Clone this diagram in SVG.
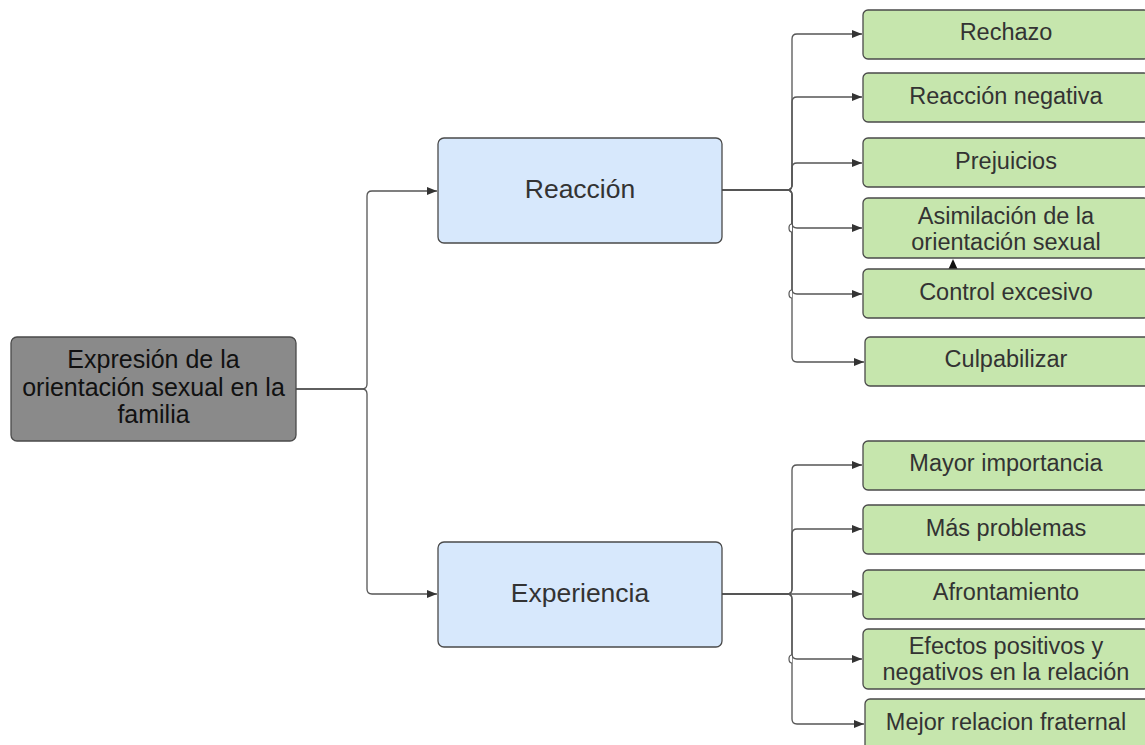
<svg xmlns="http://www.w3.org/2000/svg" width="1145" height="745" viewBox="0 0 1145 745">
<style>
.box{stroke:#4a4a4a;stroke-width:1.3}
.root{fill:#8a8a8a}
.mid{fill:#d7e8fc}
.leaf{fill:#c6e6ad}
.t{font-family:"Liberation Sans",Arial,sans-serif;text-anchor:middle;dominant-baseline:central;fill:#333}
.tr{font-size:25px;fill:#111}
.tm{font-size:26.5px}
.tl{font-size:23.5px}
.c{fill:none;stroke:#555;stroke-width:1.3}
.hop{fill:#fff;stroke:#555;stroke-width:1.2}
</style>
<defs>
<marker id="ah" viewBox="0 0 10 8" refX="10" refY="4" markerWidth="10" markerHeight="8" markerUnits="userSpaceOnUse" orient="auto">
<path d="M0,0 L10,4 L0,8 z" fill="#333"/>
</marker>
</defs>
<rect width="1145" height="745" fill="#fff"/>
<g id="connectors">
<path class="c" d="M296,389 H362 q5,0 5,-5 V196 q0,-5 5,-5 H437" marker-end="url(#ah)"/>
<path class="c" d="M296,389 H362 q5,0 5,5 V589 q0,5 5,5 H437" marker-end="url(#ah)"/>
<path class="c" d="M722,190 H787 q5,0 5,-5 V39 q0,-5 5,-5 H862" marker-end="url(#ah)"/>
<path class="c" d="M722,190 H787 q5,0 5,-5 V102 q0,-5 5,-5 H862" marker-end="url(#ah)"/>
<path class="c" d="M722,190 H787 q5,0 5,-5 V168 q0,-5 5,-5 H862" marker-end="url(#ah)"/>
<path class="c" d="M722,190 H787 q5,0 5,5 V223 q0,5 5,5 H862" marker-end="url(#ah)"/>
<path class="c" d="M722,190 H787 q5,0 5,5 V289 q0,5 5,5 H862" marker-end="url(#ah)"/>
<path class="c" d="M722,190 H787 q5,0 5,5 V357 q0,5 5,5 H864" marker-end="url(#ah)"/>
<path class="hop" d="M792,224 a3,4 0 0 0 0,8"/>
<path class="hop" d="M792,290 a3,4 0 0 0 0,8"/>
<path class="c" d="M722,594 H787 q5,0 5,-5 V470 q0,-5 5,-5 H862" marker-end="url(#ah)"/>
<path class="c" d="M722,594 H787 q5,0 5,-5 V534 q0,-5 5,-5 H862" marker-end="url(#ah)"/>
<path class="c" d="M722,594 H862" marker-end="url(#ah)"/>
<path class="c" d="M722,594 H787 q5,0 5,5 V654 q0,5 5,5 H862" marker-end="url(#ah)"/>
<path class="c" d="M722,594 H787 q5,0 5,5 V719 q0,5 5,5 H864" marker-end="url(#ah)"/>
<path class="hop" d="M792,655 a3,4 0 0 0 0,8"/>
<path d="M953,259 L957.5,269 L948.5,269 z" fill="#111"/>
</g>
<g id="root">
<rect class="box root" x="11" y="337" width="285" height="104" rx="6"/>
<text class="t tr" x="153.5" y="359">Expresión de la</text>
<text class="t tr" x="153.5" y="387">orientación sexual en la</text>
<text class="t tr" x="153.5" y="414">familia</text>
</g>
<g id="reaccion">
<rect class="box mid" x="438" y="138" width="284" height="105" rx="6"/>
<text class="t tm" x="580" y="189">Reacción</text>
</g>
<g id="experiencia">
<rect class="box mid" x="438" y="542" width="284" height="105" rx="6"/>
<text class="t tm" x="580" y="593">Experiencia</text>
</g>
<g id="rechazo">
<rect class="box leaf" x="863" y="10" width="286" height="49" rx="5"/>
<text class="t tl" x="1006" y="32">Rechazo</text>
</g>
<g id="reaccion-negativa">
<rect class="box leaf" x="863" y="73" width="286" height="49" rx="5"/>
<text class="t tl" x="1006" y="96">Reacción negativa</text>
</g>
<g id="prejuicios">
<rect class="box leaf" x="863" y="138" width="286" height="49" rx="5"/>
<text class="t tl" x="1006" y="161">Prejuicios</text>
</g>
<g id="asimilacion">
<rect class="box leaf" x="863" y="198" width="286" height="60" rx="5"/>
<text class="t tl" x="1006" y="216">Asimilación de la</text>
<text class="t tl" x="1006" y="242">orientación sexual</text>
</g>
<g id="control">
<rect class="box leaf" x="863" y="269" width="286" height="49" rx="5"/>
<text class="t tl" x="1006" y="292">Control excesivo</text>
</g>
<g id="culpabilizar">
<rect class="box leaf" x="865" y="337" width="286" height="49" rx="5"/>
<text class="t tl" x="1006" y="359">Culpabilizar</text>
</g>
<g id="mayor">
<rect class="box leaf" x="863" y="441" width="286" height="49" rx="5"/>
<text class="t tl" x="1006" y="463">Mayor importancia</text>
</g>
<g id="mas">
<rect class="box leaf" x="863" y="505" width="286" height="49" rx="5"/>
<text class="t tl" x="1006" y="528">Más problemas</text>
</g>
<g id="afrontamiento">
<rect class="box leaf" x="863" y="570" width="286" height="49" rx="5"/>
<text class="t tl" x="1006" y="592">Afrontamiento</text>
</g>
<g id="efectos">
<rect class="box leaf" x="863" y="629" width="286" height="60" rx="5"/>
<text class="t tl" x="1006" y="646">Efectos positivos y</text>
<text class="t tl" x="1006" y="672">negativos en la relación</text>
</g>
<g id="mejor">
<rect class="box leaf" x="865" y="699" width="286" height="60" rx="5"/>
<text class="t tl" x="1006" y="722">Mejor relacion fraternal</text>
</g>
</svg>
